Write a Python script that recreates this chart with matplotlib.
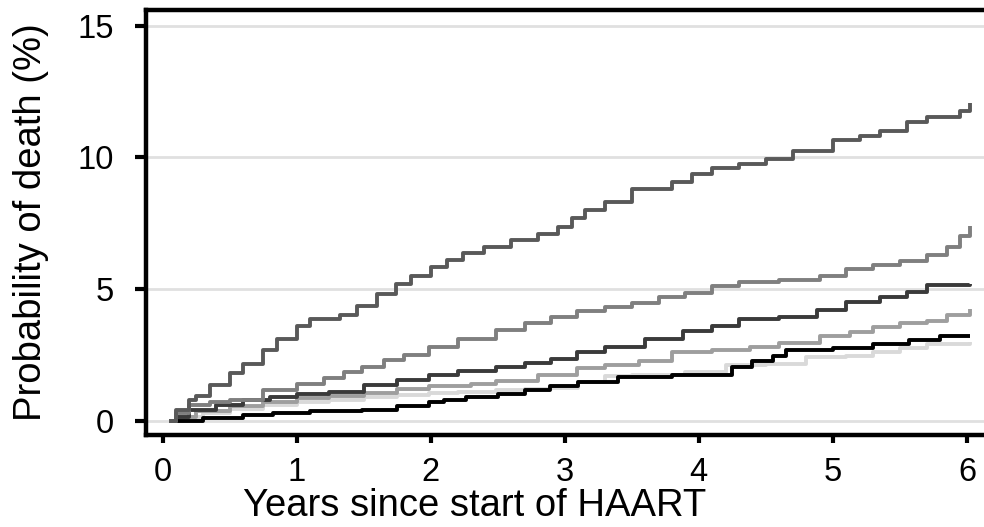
import numpy as np
import matplotlib.pyplot as plt

plt.rcParams['font.family'] = ['Liberation Sans', 'DejaVu Sans']

# Kaplan-Meier style cumulative probability of death (%)
t_a = [0.05, 0.1, 0.2, 0.25, 0.35, 0.5, 0.6, 0.75, 0.85, 1.0, 1.1, 1.32, 1.45, 1.6, 1.74, 1.85, 2.0, 2.12, 2.24, 2.4, 2.6, 2.8, 2.95, 3.05, 3.15, 3.3, 3.5, 3.8, 3.95, 4.1, 4.3, 4.5, 4.7, 5.0, 5.2, 5.35, 5.55, 5.7, 5.95, 6.02]
y_a = [0.0, 0.4, 0.8, 0.95, 1.35, 1.8, 2.15, 2.7, 3.1, 3.6, 3.85, 4.0, 4.35, 4.8, 5.2, 5.5, 5.85, 6.1, 6.35, 6.6, 6.85, 7.1, 7.35, 7.7, 8.0, 8.3, 8.8, 9.05, 9.35, 9.6, 9.75, 9.95, 10.25, 10.65, 10.8, 11.0, 11.35, 11.55, 11.75, 12.05]

t_b = [0.05, 0.1, 0.2, 0.35, 0.5, 0.75, 1.0, 1.2, 1.35, 1.49, 1.65, 1.8, 1.99, 2.2, 2.49, 2.7, 2.9, 3.09, 3.3, 3.5, 3.7, 3.9, 4.1, 4.3, 4.6, 4.9, 5.1, 5.3, 5.5, 5.7, 5.85, 5.95, 6.02]
y_b = [0.0, 0.3, 0.6, 0.7, 0.8, 1.15, 1.4, 1.6, 1.85, 2.05, 2.3, 2.5, 2.8, 3.1, 3.45, 3.7, 3.95, 4.15, 4.3, 4.45, 4.7, 4.85, 5.1, 5.25, 5.35, 5.5, 5.75, 5.9, 6.05, 6.3, 6.6, 7.0, 7.4]

t_c = [0.05, 0.1, 0.2, 0.4, 0.6, 0.8, 1.0, 1.24, 1.5, 1.75, 1.99, 2.2, 2.49, 2.7, 2.9, 3.09, 3.3, 3.6, 3.88, 4.1, 4.3, 4.6, 4.88, 5.1, 5.35, 5.55, 5.7, 6.02]
y_c = [0.0, 0.15, 0.4, 0.6, 0.8, 0.9, 1.0, 1.1, 1.35, 1.55, 1.75, 1.9, 2.05, 2.2, 2.35, 2.6, 2.8, 3.1, 3.4, 3.6, 3.85, 3.95, 4.2, 4.5, 4.7, 4.9, 5.15, 5.2]

t_d = [0.05, 0.1, 0.25, 0.5, 0.75, 1.0, 1.24, 1.5, 1.75, 1.99, 2.3, 2.49, 2.8, 3.09, 3.3, 3.55, 3.8, 4.1, 4.38, 4.6, 4.9, 5.13, 5.3, 5.5, 5.7, 5.85, 6.02]
y_d = [0.0, 0.15, 0.35, 0.55, 0.7, 0.85, 0.95, 1.05, 1.2, 1.3, 1.4, 1.5, 1.75, 2.0, 2.1, 2.25, 2.6, 2.7, 2.8, 2.95, 3.2, 3.35, 3.55, 3.7, 3.8, 4.0, 4.25]

t_e = [0.05, 0.3, 0.6, 0.82, 1.1, 1.49, 1.75, 1.99, 2.1, 2.26, 2.5, 2.7, 2.89, 3.1, 3.4, 3.8, 4.25, 4.4, 4.55, 4.65, 5.0, 5.3, 5.57, 5.8, 6.02]
y_e = [0.0, 0.1, 0.2, 0.3, 0.35, 0.42, 0.55, 0.72, 0.8, 0.9, 1.0, 1.15, 1.3, 1.45, 1.65, 1.75, 2.05, 2.25, 2.45, 2.7, 2.75, 2.9, 3.05, 3.2, 3.2]

t_f = [0.05, 0.15, 0.3, 0.5, 0.75, 1.0, 1.24, 1.5, 1.75, 1.99, 2.2, 2.49, 2.7, 2.89, 3.1, 3.3, 3.5, 3.9, 4.2, 4.5, 4.8, 5.1, 5.3, 5.5, 5.7, 6.02]
y_f = [0.0, 0.15, 0.3, 0.45, 0.6, 0.7, 0.8, 0.9, 0.97, 1.05, 1.1, 1.15, 1.2, 1.25, 1.45, 1.7, 1.75, 1.85, 2.1, 2.15, 2.4, 2.45, 2.6, 2.75, 2.9, 3.0]

series = [
    (t_f, y_f, '#d9d9d9'),
    (t_e, y_e, '#000000'),
    (t_d, y_d, '#9e9e9e'),
    (t_c, y_c, '#3a3a3a'),
    (t_b, y_b, '#7f7f7f'),
    (t_a, y_a, '#595959'),
]

fig = plt.figure(figsize=(9.84, 5.27), dpi=100)
ax = fig.add_axes([0.148, 0.175, 0.852, 0.806])

for yg in [0, 5, 10, 15]:
    ax.axhline(yg, color='#e0e0e0', lw=2, zorder=0)

for t, y, c in series:
    ax.plot(t, y, drawstyle='steps-post', color=c, lw=2.8, solid_capstyle='butt')

ax.set_xlim(-0.127, 6.127)
ax.set_ylim(-0.54, 15.6)
ax.set_xticks(range(0, 7))
ax.set_yticks([0, 5, 10, 15])

for side in ['left', 'bottom', 'top']:
    ax.spines[side].set_linewidth(3.2)
ax.spines['right'].set_visible(False)

ax.tick_params(axis='y', direction='out', length=8, width=3, labelsize=23.5, pad=15)
ax.tick_params(axis='x', direction='out', length=6, width=3, labelsize=23.5, pad=10)

ax.set_xlabel('Years since start of HAART', fontsize=27.5)
ax.xaxis.set_label_coords(0.393, -0.125)
ax.set_ylabel('Probability of death (%)', fontsize=27.5, labelpad=20)

fig.savefig('out.png', dpi=100)
